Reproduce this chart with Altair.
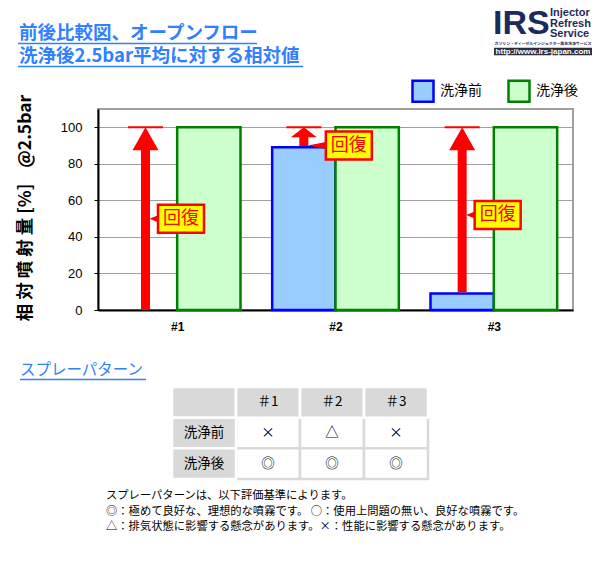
import altair as alt
import pandas as pd

# ---------------- data ----------------
samples = ["#1", "#2", "#3"]
series_names = ["洗浄前", "洗浄後"]
before = [0, 89, 9]
after = [100, 100, 100]
y_ticks = [0, 20, 40, 60, 80, 100]
callout_at = [50, 90, 52]          # level (in %) of each 回復 label
callout_text = "回復"

col_keys = ["c0", "c1", "c2", "c3"]
col_labels = ["", "＃1", "＃2", "＃3"]
row_keys = ["r0", "r1", "r2"]
row_labels = ["", "洗浄前", "洗浄後"]
spray_before = ["×", "△", "×"]
spray_after = ["◎", "◎", "◎"]

title1 = "前後比較図、オープンフロー"
title2 = "洗浄後2.5bar平均に対する相対値"
section_title = "スプレーパターン"
notes = [
    "スプレーパターンは、以下評価基準によります。",
    "◎：極めて良好な、理想的な噴霧です。 ○：使用上問題の無い、良好な噴霧です。",
    "△：排気状態に影響する懸念があります。×：性能に影響する懸念があります。",
]
y_title = "相 対 噴 射 量 [%]\u00a0\u00a0\u00a0\u00a0@2.5bar"

# ---------------- layout / style ----------------
W, H = 475, 201
Y_MAX = 110
PX = H / Y_MAX
OX, OY = 98, 109                 # page position of plot origin
PAD = {"left": OX - 8, "top": OY - 8, "right": 600 - 16 - (OX - 8) - W, "bottom": 568 - 16 - (OY - 8) - H - 2}
JP = "Noto Sans CJK JP"
LAT = "Liberation Sans"
BLUE_T = "#3080FF"
RED = "#FF0000"
NAVY = "#1F2A5C"
callout_dx = [12.5, 22, 12.5]
HEAD_W = 13


def gx(x):
    return x - OX


def gy(y):
    return y - OY


one = pd.DataFrame({"a": [0]})

# ---------------- tables for marks ----------------
bar_rows = []
for s, v in zip(samples, before):
    bar_rows.append({"sample": s, "series": series_names[0], "value": v})
for s, v in zip(samples, after):
    bar_rows.append({"sample": s, "series": series_names[1], "value": v})
bar_df = pd.DataFrame(bar_rows)

arrow_rows = []
for s, b, a, lv, dx in zip(samples, before, after, callout_at, callout_dx):
    L = min(23.0, (a - b) * PX / 2)
    base = a - L / PX
    start = b + (1.3 / PX if b > 0 else 0)
    arrow_rows.append({
        "sample": s, "series": series_names[0],
        "start": start, "base": base + 0.4, "top": a, "label_y": lv,
        "head": f"M0,0L{HEAD_W},{L:.1f}L{-HEAD_W},{L:.1f}Z",
        "wedge": f"M4,0L{dx},-3.5L{dx},3.5Z",
        "box": f"M{dx},-14H{dx + 46}V14H{dx}Z",
    })
arrow_df = pd.DataFrame(arrow_rows)

xs = alt.X("sample:N", scale=alt.Scale(domain=samples, paddingInner=0, paddingOuter=0),
           axis=alt.Axis(title=None, labelAngle=0, tickBand="extent", tickSize=0,
                         domainColor="black", domainWidth=2,
                         labelFont=LAT, labelFontWeight="bold", labelFontSize=12,
                         labelColor="black", labelPadding=11))
xo = alt.XOffset("series:N", scale=alt.Scale(domain=series_names, paddingInner=0, paddingOuter=0.25))
yscale = alt.Scale(domain=[0, Y_MAX], nice=False)

leg = dict(orient="none", legendX=gx(411), legendY=gy(79), direction="horizontal", title=None,
           symbolType="square", symbolSize=441, symbolStrokeWidth=2.5, labelFontSize=14,
           labelFont=JP, labelOffset=5, columnPadding=21, padding=0, labelColor="black")

bars = alt.Chart(bar_df).transform_filter("datum.value > 0").mark_bar(strokeWidth=2.5).encode(
    x=xs,
    xOffset=xo,
    y=alt.Y("value:Q", scale=yscale,
            axis=alt.Axis(values=y_ticks, grid=True, gridColor="#A0A0A0", gridWidth=1,
                          domainColor="black", domainWidth=2, tickColor="black", tickSize=4,
                          labelFont=LAT, labelFontSize=13, labelColor="black", labelPadding=12,
                          title=y_title, titleX=-73, titleY=H / 2 - 2, titleAngle=270,
                          titleAlign="center", titleBaseline="middle", titleFont=JP,
                          titleFontSize=17.5, titleFontWeight="bold", titleColor="black")),
    fill=alt.Fill("series:N", scale=alt.Scale(domain=series_names, range=["#99CCFF", "#CCFFCC"]),
                  legend=alt.Legend(**leg)),
    stroke=alt.Stroke("series:N", scale=alt.Scale(domain=series_names, range=["#0000FF", "#008000"]),
                      legend=alt.Legend(**leg)),
)

arrow_base = alt.Chart(arrow_df)
shafts = arrow_base.mark_rule(color=RED, strokeWidth=9).encode(
    x=xs, xOffset=xo, y=alt.Y("start:Q", scale=yscale), y2="base:Q")
heads = arrow_base.mark_point(filled=True, opacity=1, color=RED, strokeWidth=0, size=4).encode(
    x=xs, xOffset=xo, y=alt.Y("top:Q", scale=yscale), shape=alt.Shape("head:N", scale=None))
caps = arrow_base.mark_point(filled=False, opacity=1, shape="M-17.5,0L17.5,0", size=4,
                             stroke=RED, strokeWidth=2).encode(
    x=xs, xOffset=xo, y=alt.Y("top:Q", scale=yscale))
wedges = arrow_base.mark_point(filled=True, opacity=1, color=RED, strokeWidth=0, size=4).encode(
    x=xs, xOffset=xo, y=alt.Y("label_y:Q", scale=yscale), shape=alt.Shape("wedge:N", scale=None))
boxes = arrow_base.mark_point(filled=True, opacity=1, fill="#FFFF00", stroke=RED, strokeWidth=2.5,
                              size=4).encode(
    x=xs, xOffset=xo, y=alt.Y("label_y:Q", scale=yscale), shape=alt.Shape("box:N", scale=None))
callout_layers = []
for s, dx in zip(samples, callout_dx):
    callout_layers.append(
        arrow_base.transform_filter(alt.datum.sample == s).mark_text(
            text=callout_text, dx=dx + 23, dy=0.5, font=JP, fontSize=18, color=RED,
            align="center", baseline="middle").encode(
            x=xs, xOffset=xo, y=alt.Y("label_y:Q", scale=yscale)))


def label(txt, x, y, **kw):
    return alt.Chart(one).mark_text(text=txt, baseline="middle", **kw).encode(
        x=alt.value(gx(x)), y=alt.value(gy(y)))


def hline(x1, x2, y, color, width):
    return alt.Chart(one).mark_rule(color=color, strokeWidth=width).encode(
        x=alt.value(gx(x1)), x2=alt.value(gx(x2)), y=alt.value(gy(y)))


deco = [
    label(title1, 19, 33, align="left", font=JP, fontSize=18.5, fontWeight="bold", color=BLUE_T),
    label(title2, 19, 56, align="left", font=JP, fontSize=18.5, fontWeight="bold", color=BLUE_T),
    hline(18, 257, 43.5, BLUE_T, 1.6),
    hline(18, 303, 66.5, BLUE_T, 1.6),
    label(section_title, 20, 370, align="left", font=JP, fontSize=15.5, color=BLUE_T),
    hline(20, 146, 379.5, BLUE_T, 1.5),
    # logo
    label("IRS", 493, 24, align="left", font=LAT, fontSize=34, fontWeight="bold", color=NAVY),
    label("Injector", 550, 12.5, align="left", font=LAT, fontSize=11, fontWeight="bold", color=NAVY),
    label("Refresh", 550, 23.5, align="left", font=LAT, fontSize=11, fontWeight="bold", color=NAVY),
    label("Service", 550, 34, align="left", font=LAT, fontSize=11, fontWeight="bold", color=NAVY),
    label("ガソリン・ディーゼルインジェクター再生洗浄サービス", 543, 43.5, align="center", font=JP,
          fontSize=3.9, fontWeight="bold", color=NAVY),
    hline(494, 592, 51.5, "#2E2E3A", 7.5),
    label("http://www.irs-japan.com", 543, 51.7, align="center", font=LAT, fontSize=8,
          fontWeight="bold", color="white"),
]
for i, t in enumerate(notes):
    deco.append(label(t, 106, 496 + i * 15.5, align="left", font=JP, fontSize=11.3, color="black"))

main = alt.layer(bars, shafts, heads, caps, wedges, boxes, *callout_layers, *deco)

# ---------------- spray pattern table ----------------
cells = []
for ci, (ck, cl) in enumerate(zip(col_keys, col_labels)):
    for ri, (rk, rl) in enumerate(zip(row_keys, row_labels)):
        if ri == 0:
            txt, kind = cl, "head"
        elif ci == 0:
            txt, kind = rl, "head"
        else:
            txt = spray_before[ci - 1] if ri == 1 else spray_after[ci - 1]
            kind = "body"
        cells.append({"col": ck, "row": rk, "text": txt, "kind": kind})
cell_df = pd.DataFrame(cells)

tx = alt.X("col:N", scale=alt.Scale(domain=col_keys, range=[gx(172), gx(428)], paddingInner=0,
                                    paddingOuter=0), axis=None)
ty = alt.Y("row:N", scale=alt.Scale(domain=row_keys, range=[gy(387), gy(479)], paddingInner=0,
                                    paddingOuter=0), axis=None)
tbase = alt.Chart(cell_df)
body_cells = tbase.transform_filter(alt.datum.kind == "body").mark_rect(
    fill="white", stroke="#D9D9D9", strokeWidth=2.5).encode(x=tx, y=ty)
head_cells = tbase.transform_filter(alt.datum.kind == "head").mark_rect(
    fill="#D9D9D9", stroke="white", strokeWidth=2.5).encode(x=tx, y=ty)
cell_text = tbase.mark_text(font=JP, fontSize=13.5, color="black", baseline="middle").encode(
    x=tx, y=ty, text="text:N")
table = alt.layer(body_cells, head_cells, cell_text)

chart = alt.layer(main, table).resolve_scale(x="independent", y="independent").properties(
    width=W, height=H, autosize=alt.AutoSizeParams(type="none"), padding=PAD,
    background="white",
).configure_view(stroke="#A0A0A0", strokeWidth=2)

chart.save("out.html", embed_options={"renderer": "svg", "actions": False})
